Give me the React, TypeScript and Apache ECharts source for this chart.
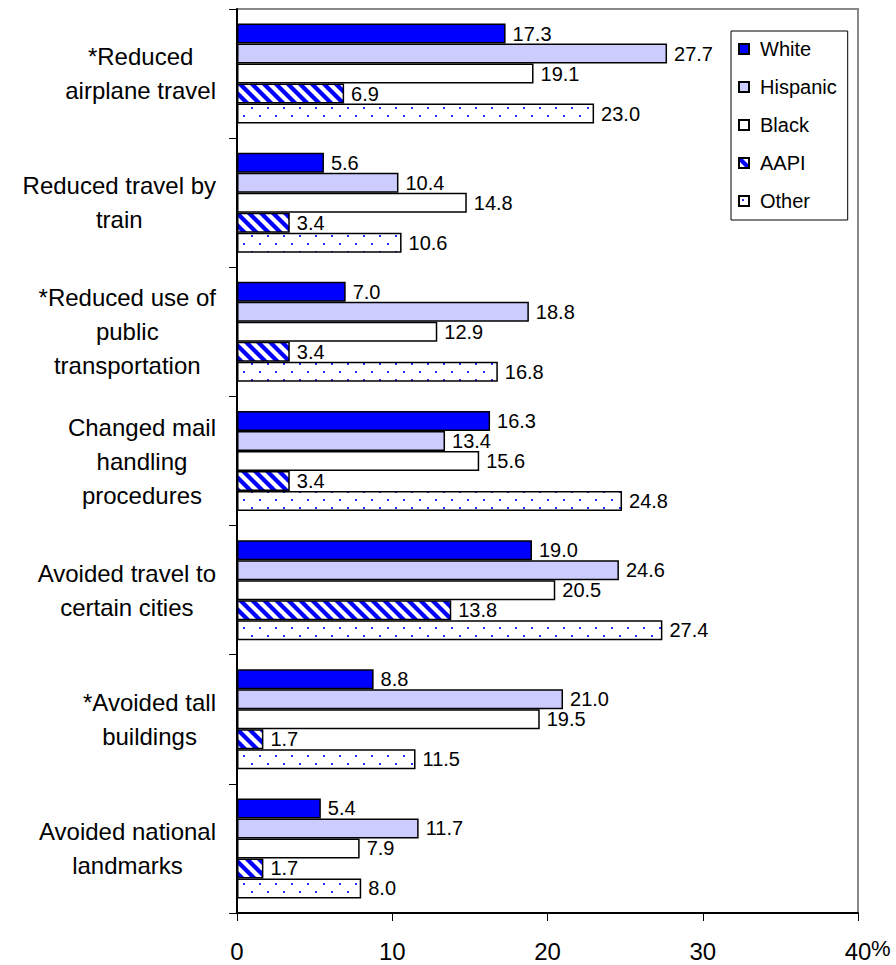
import React, { useEffect, useRef } from 'react';
import * as echarts from 'echarts';

const categories = [
  '*Reduced\nairplane travel',
  'Reduced travel by\ntrain',
  '*Reduced use of\npublic\ntransportation',
  'Changed mail\nhandling\nprocedures',
  'Avoided travel to\ncertain cities',
  '*Avoided tall\nbuildings',
  'Avoided national\nlandmarks',
];
const seriesNames = ['White', 'Hispanic', 'Black', 'AAPI', 'Other'];
const white = [17.3, 5.6, 7.0, 16.3, 19.0, 8.8, 5.4];
const hispanic = [27.7, 10.4, 18.8, 13.4, 24.6, 21.0, 11.7];
const black = [19.1, 14.8, 12.9, 15.6, 20.5, 19.5, 7.9];
const aapi = [6.9, 3.4, 3.4, 3.4, 13.8, 1.7, 1.7];
const other = [23.0, 10.6, 16.8, 24.8, 27.4, 11.5, 8.0];
const xMin = 0;
const xMax = 40;
const xInterval = 10;

const FONT = '"Liberation Sans", Arial, sans-serif';

function makeStripe(): HTMLCanvasElement {
  const c = document.createElement('canvas');
  c.width = 12;
  c.height = 12;
  const ctx = c.getContext('2d')!;
  ctx.fillStyle = '#ffffff';
  ctx.fillRect(0, 0, 12, 12);
  ctx.strokeStyle = '#0000ff';
  ctx.lineWidth = 4.2;
  for (const x0 of [-12, 0, 12]) {
    ctx.beginPath();
    ctx.moveTo(x0 - 6, -6);
    ctx.lineTo(x0 + 18, 18);
    ctx.stroke();
  }
  return c;
}

function makeDots(): HTMLCanvasElement {
  const c = document.createElement('canvas');
  c.width = 16;
  c.height = 16;
  const ctx = c.getContext('2d')!;
  ctx.fillStyle = '#ffffff';
  ctx.fillRect(0, 0, 16, 16);
  ctx.fillStyle = '#2a2aff';
  ctx.fillRect(3, 3, 2, 2);
  ctx.fillRect(11, 11, 2, 2);
  return c;
}

export default function App() {
  const ref = useRef<HTMLDivElement>(null);

  useEffect(() => {
    document.body.style.margin = '0';
    if (!ref.current) return;
    const chart = echarts.init(ref.current, null, { renderer: 'svg' });

    const fills: any[] = [
      '#0000ff',
      '#ccccff',
      '#ffffff',
      { image: makeStripe(), repeat: 'repeat' },
      { image: makeDots(), repeat: 'repeat' },
    ];
    const values = [white, hispanic, black, aapi, other];

    const series = seriesNames.map((name, i) => ({
      type: 'bar',
      name,
      data: values[i],
      barWidth: 20,
      barGap: '0%',
      itemStyle: { color: fills[i], borderColor: '#000', borderWidth: 1.5 },
      label: {
        show: true,
        position: 'right',
        distance: 7,
        color: '#000',
        fontSize: 20,
        fontFamily: FONT,
        formatter: (p: any) => Number(p.value).toFixed(1),
      },
    }));

    chart.setOption({
      animation: false,
      backgroundColor: '#fff',
      grid: {
        left: 237,
        right: 38,
        top: 9,
        bottom: 52,
        show: true,
        borderColor: '#888',
        borderWidth: 2,
        backgroundColor: 'transparent',
      },
      legend: {
        orient: 'vertical',
        left: 731,
        top: 31,
        itemWidth: 10,
        itemHeight: 10,
        itemGap: 18,
        padding: [8, 11, 9, 7],
        borderColor: '#000',
        borderWidth: 1,
        backgroundColor: '#fff',
        icon: 'rect',
        textStyle: { fontSize: 20, color: '#000', fontFamily: FONT, padding: [0, 0, 0, 6] },
        data: seriesNames,
      },
      xAxis: {
        type: 'value',
        min: xMin,
        max: xMax,
        interval: xInterval,
        axisLine: { show: true, lineStyle: { color: '#000', width: 2 } },
        axisTick: { show: true, length: 8, lineStyle: { color: '#000', width: 1 } },
        axisLabel: { margin: 26, fontSize: 24, color: '#000', fontFamily: FONT },
        splitLine: { show: false },
      },
      yAxis: {
        type: 'category',
        data: categories,
        inverse: true,
        axisLine: { show: true, lineStyle: { color: '#000', width: 2 } },
        axisTick: { show: true, length: 8, lineStyle: { color: '#000', width: 1 } },
        axisLabel: {
          margin: 21,
          color: '#000',
          fontSize: 24,
          lineHeight: 34,
          fontFamily: FONT,
          formatter: (v: string) => v.split('\n').map((s) => `{c|${s}}`).join('\n'),
          rich: {
            c: { align: 'center', fontSize: 24, lineHeight: 34, fontFamily: FONT, color: '#000' },
          },
        },
      },
      graphic: [
        {
          type: 'text',
          left: 871,
          top: 937,
          style: { text: '%', fontSize: 22, fill: '#000', fontFamily: FONT },
        },
      ],
      series,
    });

    return () => chart.dispose();
  }, []);

  return <div ref={ref} style={{ width: 896, height: 965 }} />;
}
